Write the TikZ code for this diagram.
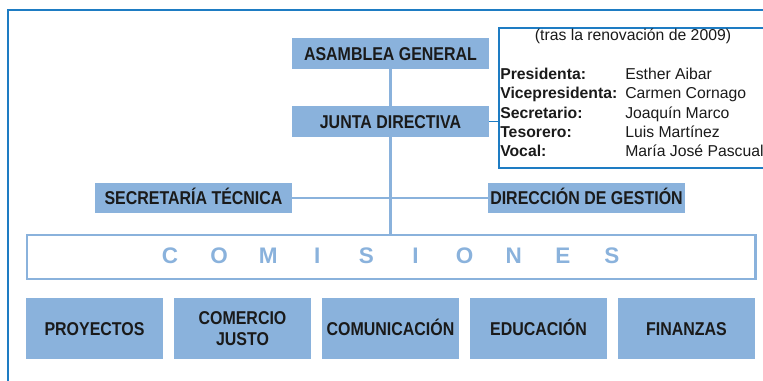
\documentclass[tikz,border=0pt]{standalone}
\usepackage{fontspec}
\setmainfont{Liberation Sans}
\newfontfamily\narrowfont{Liberation Sans}[FakeStretch=0.86]
\usetikzlibrary{positioning}

\definecolor{boxblue}{HTML}{8AB2DC}
\definecolor{frameblue}{HTML}{1E7CC3}
\definecolor{ink}{HTML}{1A1A1A}

\tikzset{
  organ/.style={fill=boxblue, text=ink, inner sep=0pt,
    minimum width=4.925cm, minimum height=0.775cm,
    font=\narrowfont\bfseries\fontsize{13.2}{14.4}\selectfont},
  capcenter/.style={text height=9.4pt, text depth=0pt},
  area/.style={organ, align=center, minimum width=3.425cm, minimum height=1.525cm},
  link/.style={boxblue, line width=2pt},
  infotext/.style={text=ink, inner sep=0pt, font=\fontsize{11.2}{13}\selectfont},
  letra/.style={text=boxblue, inner sep=0pt, font=\bfseries\fontsize{16}{18}\selectfont}
}

\begin{document}
\begin{tikzpicture}[x=0.025cm,y=-0.025cm]

\useasboundingbox (0,0) rectangle (763,381);

% marco
\coordinate (esquina) at (8,10);
\draw[frameblue, line width=1.2pt] (763,10) -- (esquina) -- (8,381);

\node[organ, capcenter] (asamblea) at (390.5,53.5) {ASAMBLEA GENERAL};
\node[organ, capcenter] (junta) at (390.5,121.5) {JUNTA DIRECTIVA};
\node[organ, capcenter, minimum height=0.75cm] (secretaria) at (193.5,198) {SECRETARÍA TÉCNICA};
\node[organ, capcenter, minimum height=0.75cm] (direccion) at (586.5,198) {DIRECCIÓN DE GESTIÓN};

\node[draw=boxblue, line width=2pt, minimum width=18.2cm, minimum height=1.1cm] (comisiones) at (391,257) {};

\foreach \l [count=\i from 0] in {C,O,M,I,S,I,O,N,E,S}
    \node[letra, anchor=base] (letra\i) at (170+49.1*\i,263) {\l};

\foreach \name/\txt/\opt [count=\i from 0] in {proyectos/PROYECTOS/capcenter,comercio/{COMERCIO\\JUSTO}/{},comunicacion/COMUNICACIÓN/capcenter,educacion/EDUCACIÓN/capcenter,finanzas/FINANZAS/capcenter}
    \node[area, \opt] (\name) at (94.5+148*\i,328.5) {\txt};

\draw[link] (asamblea) -- (junta);
\draw[link] (junta) -- (junta |- comisiones.north);
\draw[link] (secretaria) -- (direccion);

% junta directiva
\node[draw=frameblue, line width=0.8pt, inner sep=0pt, minimum width=6.9cm, minimum height=3.5cm] (info) at (637,98) {};
\draw[frameblue, line width=0.8pt] (junta.east) -- (junta.east -| info.west);

\node[infotext, anchor=base] (fecha) at (633,41) {(tras la renovación de 2009)};

\foreach \cargo/\persona [count=\i from 0] in {Presidenta/Esther Aibar,Vicepresidenta/Carmen Cornago,Secretario/Joaquín Marco,Tesorero/Luis Martínez,Vocal/María José Pascual}{
    \node[infotext, anchor=base west, font=\bfseries\fontsize{11.2}{13}\selectfont] (cargo\i) at (500,79.5+19.25*\i) {\cargo:};
    \node[infotext, anchor=base west] (persona\i) at (625,79.5+19.25*\i) {\persona};
}

\end{tikzpicture}
\end{document}
